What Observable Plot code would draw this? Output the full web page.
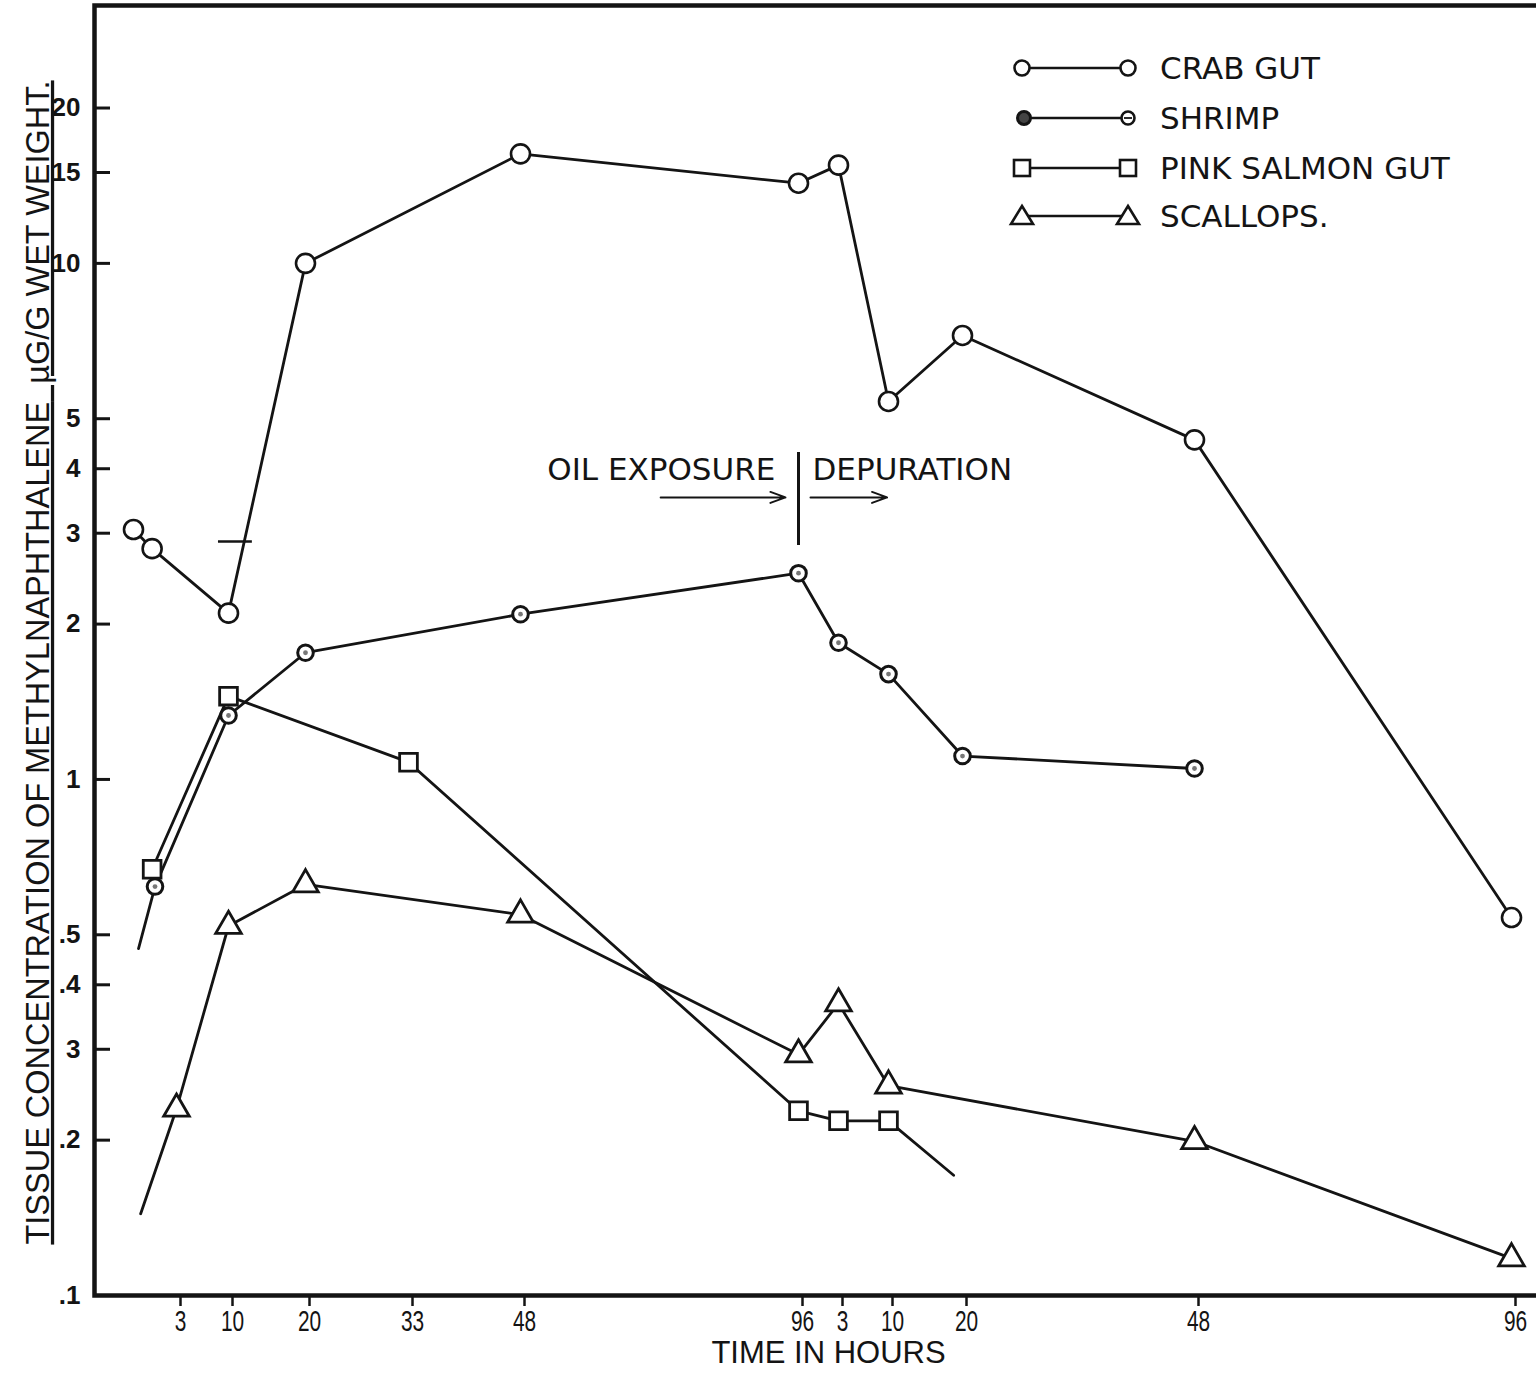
<!DOCTYPE html>
<html>
<head>
<meta charset="utf-8">
<script src="https://cdn.jsdelivr.net/npm/d3@7"></script>
<script src="https://cdn.jsdelivr.net/npm/@observablehq/plot@0.6"></script>
<style>
  body { margin: 0; background: #fff; }
  #wrap { position: relative; width: 1536px; height: 1378px; overflow: hidden; background: #fff; }
  #legend { position: absolute; left: 990px; top: 40px; }
</style>
</head>
<body>
<div id="wrap"></div>
<script>
// ---------- tick labels ----------
const xTickHours  = [3, 10, 20, 33, 48, 96, 99, 106, 116, 144, 192];
const xTickLabels = ["3", "10", "20", "33", "48", "96", "3", "10", "20", "48", "96"];
const yTickValues = [0.1, 0.2, 0.3, 0.4, 0.5, 1, 2, 3, 4, 5, 10, 15, 20];
const yTickLabels = [".1", ".2", "3", ".4", ".5", "1", "2", "3", "4", "5", "10", "15", "20"];

// ---------- series (cumulative hours: exposure 0-96, depuration 96+) ----------
const crabHours    = [0, 1.3, 10, 20, 48, 96, 99, 106, 116, 144, 192];
const crabValues   = [3.05, 2.8, 2.1, 10.0, 16.3, 14.3, 15.5, 5.4, 7.25, 4.55, 0.54];
const shrimpHours  = [1.5, 10, 20, 48, 96, 99, 106, 116, 144];
const shrimpValues = [0.62, 1.33, 1.76, 2.09, 2.51, 1.84, 1.60, 1.11, 1.05];
const salmonHours  = [1.3, 10, 33, 96, 99, 106];
const salmonValues = [0.67, 1.45, 1.08, 0.228, 0.218, 0.218];
const scallopHours  = [3, 10, 20, 48, 96, 99, 106, 144, 192];
const scallopValues = [0.23, 0.52, 0.626, 0.547, 0.293, 0.368, 0.255, 0.199, 0.118];
// unmarked line ends [hours, value]
const shrimpLead  = [0.35, 0.47];
const scallopLead = [0.5, 0.144];
const salmonTail  = [114.8, 0.171];

const seriesNames = ["CRAB GUT", "SHRIMP", "PINK SALMON GUT", "SCALLOPS."];
const yTitleMain = "TISSUE CONCENTRATION OF METHYLNAPHTHALENE";
const yTitleUnit = "  \u00b5G/G WET WEIGHT.";
const yTitle = yTitleMain + yTitleUnit;
const xTitle = "TIME IN HOURS";

// annotations
const phaseLabels = ["OIL EXPOSURE", "DEPURATION"];
const phaseLabelHours = [92, 97.05];
const phaseLabelValue = 3.97;
const arrowFrom = [72.2, 96.9];
const arrowTo = [93.75, 105.8];
const arrowValue = 3.52;
const dividerHour = 96;
const dividerRange = [2.84, 4.3];

// ---------- layout of the hand-drawn time axis (piecewise) ----------
const xBreakHours = [0, 3, 10, 20, 33, 48, 96, 99, 106, 116, 144, 192];
const xBreakPx    = [133, 176, 228, 305, 408, 520, 798, 838, 888, 962, 1194, 1511];

const pts = (hs, vs) => hs.map((h, i) => ({h, v: vs[i]}));
const crab = pts(crabHours, crabValues);
const shrimp = pts(shrimpHours, shrimpValues);
const salmon = pts(salmonHours, salmonValues);
const scallop = pts(scallopHours, scallopValues);
const shrimpLine = [{h: shrimpLead[0], v: shrimpLead[1]}, ...shrimp];
const scallopLine = [{h: scallopLead[0], v: scallopLead[1]}, ...scallop];
const salmonLine = [...salmon, {h: salmonTail[0], v: salmonTail[1]}];

const xLabelOf = new Map(xTickHours.map((h, i) => [h, xTickLabels[i]]));

const ink = "#141414";
const lw = 2.8;
const sans = "'Liberation Sans', Arial, sans-serif";
const round = "'DejaVu Sans', sans-serif";

const chart = Plot.plot({
  width: 1536,
  height: 1378,
  marginTop: 5,
  marginBottom: 83,
  marginLeft: 94,
  marginRight: 0,
  style: {background: "#fff", color: ink, fontFamily: sans},
  x: {type: "linear", domain: xBreakHours, range: xBreakPx},
  y: {type: "log", domain: [0.1, 31.6]},
  marks: [
    Plot.frame({stroke: ink, strokeWidth: 4.5, insetRight: -10}),
    // y axis: inward ticks and bold labels
    Plot.axisY({ticks: yTickValues, tickSize: -16, fill: "none", stroke: ink, strokeWidth: 3, label: null}),
    Plot.text(yTickValues, {y: d => d, frameAnchor: "left", text: (d, i) => yTickLabels[i], textAnchor: "end",
                            dx: -14, fontSize: 26, fontWeight: "bold", fontFamily: sans, fill: ink}),
    // x axis
    Plot.axisX({ticks: xTickHours, tickFormat: d => xLabelOf.get(d), tickSize: 11, tickPadding: 4,
                strokeWidth: 2.5, fontSize: 29, fontFamily: sans, dx: 4, label: null}),
    Plot.text([xTitle], {frameAnchor: "bottom", textAnchor: "middle", dx: 13, dy: 67, fontSize: 31, fontFamily: sans, fill: ink}),
    Plot.text([yTitle], {frameAnchor: "left", textAnchor: "middle", rotate: -90, dx: -56, dy: 12,
                         fontSize: 32.5, fontFamily: sans, fill: ink}),

    // annotations
    Plot.ruleX([dividerHour], {y1: dividerRange[0], y2: dividerRange[1], stroke: ink, strokeWidth: 3}),
    Plot.text([0], {x: phaseLabelHours[0], y: phaseLabelValue, text: () => phaseLabels[0], textAnchor: "end",
                    fontSize: 31, fontFamily: round, fontWeight: 500, fill: ink}),
    Plot.text([1], {x: phaseLabelHours[1], y: phaseLabelValue, text: () => phaseLabels[1], textAnchor: "start",
                    fontSize: 31, fontFamily: round, fill: ink}),
    Plot.arrow([0, 1], {x1: i => arrowFrom[i], x2: i => arrowTo[i], y1: arrowValue, y2: arrowValue,
                        stroke: ink, strokeWidth: 2, headLength: 12, headAngle: 40}),
    Plot.ruleY([2.89], {x1: 8.65, x2: 13.1, stroke: ink, strokeWidth: 2.5}),

    // lines
    Plot.line(crab, {x: "h", y: "v", stroke: ink, strokeWidth: lw}),
    Plot.line(shrimpLine, {x: "h", y: "v", stroke: ink, strokeWidth: lw}),
    Plot.line(salmonLine, {x: "h", y: "v", stroke: ink, strokeWidth: lw}),
    Plot.line(scallopLine, {x: "h", y: "v", stroke: ink, strokeWidth: lw}),

    // markers
    Plot.dot(crab, {x: "h", y: "v", r: 9.5, stroke: ink, strokeWidth: 2.6, fill: "#fff"}),
    Plot.dot(shrimp, {x: "h", y: "v", r: 7.8, stroke: ink, strokeWidth: 3, fill: "#fff"}),
    Plot.dot(shrimp, {x: "h", y: "v", r: 2.4, fill: "#777", stroke: "none"}),
    Plot.dot(salmon, {x: "h", y: "v", symbol: "square", r: 10, stroke: ink, strokeWidth: 2.8, fill: "#fff"}),
    Plot.dot(scallop, {x: "h", y: "v", symbol: "triangle", r: 9.5, stroke: ink, strokeWidth: 2.8, fill: "#fff"})
  ]
});

// underline the y title (dashed under the substance, solid under the unit)
d3.select(chart).selectAll("text").filter(function () { return this.textContent === yTitle; })
  .each(function () {
    const t = d3.select(this);
    t.text(null);
    t.append("tspan").text(yTitleMain).style("text-decoration", "underline dashed");
    t.append("tspan").text(yTitleUnit).style("text-decoration", "underline");
  });

// narrow (condensed) x tick labels as in the typed original
d3.select(chart).selectAll('g[aria-label="x-axis tick label"] text').each(function () {
  const x = +this.getAttribute("x") || 0;
  const y = +this.getAttribute("y") || 0;
  const tr = this.getAttribute("transform") || "";
  this.setAttribute("transform", `${tr} translate(${x},${y}) scale(0.72,1) translate(${-x},${-y})`);
});

const wrap = document.getElementById("wrap");
wrap.appendChild(chart);

// ---------- legend ----------
const leg = d3.create("svg").attr("id", "legend").attr("width", 520).attr("height", 210)
  .attr("xmlns", "http://www.w3.org/2000/svg");
const rowY = [28, 78, 128, 176];
const xl = 32, xr = 138;
seriesNames.forEach((name, i) => {
  const y = rowY[i];
  const g = leg.append("g").attr("stroke", ink).attr("stroke-width", 2.6).attr("fill", "#fff");
  g.append("line").attr("x1", xl).attr("x2", xr).attr("y1", y).attr("y2", y);
  if (i === 0) {
    g.append("circle").attr("cx", xl).attr("cy", y).attr("r", 7.5);
    g.append("circle").attr("cx", xr).attr("cy", y).attr("r", 7.5);
  } else if (i === 1) {
    g.append("circle").attr("cx", xl + 2).attr("cy", y).attr("r", 6.5).attr("fill", "#444").attr("stroke-width", 3);
    g.append("circle").attr("cx", xr).attr("cy", y).attr("r", 6.5);
    g.append("line").attr("x1", xr - 4).attr("x2", xr + 4).attr("y1", y).attr("y2", y).attr("stroke-width", 1.8);
  } else if (i === 2) {
    g.append("rect").attr("x", xl - 8).attr("y", y - 8).attr("width", 16).attr("height", 16);
    g.append("rect").attr("x", xr - 8).attr("y", y - 8).attr("width", 16).attr("height", 16);
  } else {
    const tri = cx => `M${cx},${y - 10}L${cx + 11},${y + 8}L${cx - 11},${y + 8}Z`;
    g.append("path").attr("d", tri(xl));
    g.append("path").attr("d", tri(xr));
  }
  leg.append("text").attr("x", 170).attr("y", y).attr("dy", "0.36em")
    .attr("font-family", round).attr("font-size", 31).attr("fill", ink).text(name);
});
wrap.appendChild(leg.node());
</script>
</body>
</html>
